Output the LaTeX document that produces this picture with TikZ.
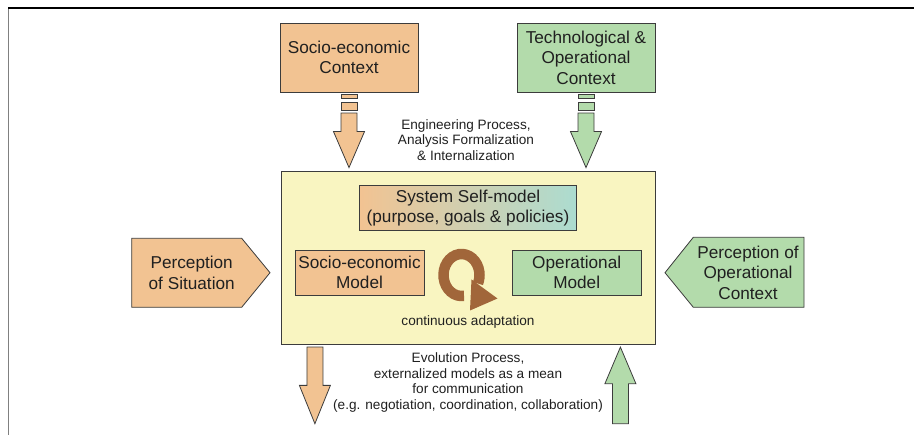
\documentclass[tikz,border=0pt]{standalone}
\usepackage{fontspec}
\setmainfont{Liberation Sans}
\usepackage{tikz}
\usetikzlibrary{calc}

\definecolor{peach}{HTML}{F2C392}
\definecolor{sage}{HTML}{B3DBAB}
\definecolor{mint}{HTML}{ACDCD0}
\definecolor{cream}{HTML}{F9F5C1}
\definecolor{rust}{HTML}{A1663A}
\definecolor{edge}{HTML}{3C3C3C}
\definecolor{ink}{HTML}{202020}

\newcommand{\boxfont}{\fontsize{17.2}{20.5}\selectfont}
\newcommand{\notefont}{\fontsize{13.6}{15.5}\selectfont}

% #1 tail, #2 tip, #3 fill, #4 signed head length
\newcommand{\blockarrow}[4]{%
  \filldraw[fill=#3,draw=edge] ($(#1)+(-8,0)$) -- ($(#1)+(8,0)$) -- ($(#2)+(8,#4)$)
    -- ($(#2)+(15.5,#4)$) -- (#2) -- ($(#2)+(-15.5,#4)$) -- ($(#2)+(-8,#4)$) -- cycle;}
\newcommand{\tailbars}[2]{%
  \filldraw[fill=#2,draw=edge] ($(#1)+(-8,2.3)$) rectangle ($(#1)+(8,6.3)$);
  \filldraw[fill=#2,draw=edge] ($(#1)+(-8,9.7)$) rectangle ($(#1)+(8,18)$);}

\begin{document}
\begin{tikzpicture}[x=1pt,y=-1pt,line width=0.8pt]

  \tikzstyle{block}=[draw=edge,line width=0.8pt,inner sep=0pt,align=center,
                     text=ink,font=\boxfont]
  \tikzstyle{note}=[align=center,text=ink,font=\notefont]

  \useasboundingbox (0,0) rectangle (914,435);
  \draw[gray,line width=1.5pt] (8.5,8) -- (8.5,435);
  \draw[black,line width=1.2pt] (8,8) -- (914,8);

  \node[block,fill=peach,minimum width=138pt,minimum height=69pt] (SC)  at (349,57.5)
       {Socio-economic\\Context};
  \node[block,fill=sage,minimum width=138pt,minimum height=69pt]  (TC)  at (586,57.5)
       {Technological \&\\Operational\\Context};
  \node[block,fill=cream,minimum width=374pt,minimum height=173pt] (SYS) at (468,257.5) {};
  \node[block,left color=peach,right color=mint,minimum width=217pt,minimum height=45pt]
       (SSM) at (468,208.3) {System Self-model\\(purpose, goals \& policies)};
  \node[block,fill=peach,minimum width=129pt,minimum height=45pt] (SEM) at (359.5,272.5)
       {Socio-economic\\Model};
  \node[block,fill=sage,minimum width=129pt,minimum height=45pt]  (OPM) at (576.7,272.5)
       {Operational\\Model};

  \filldraw[fill=peach,draw=edge] (131.7,238.3) -- (241.7,238.3) -- (270,272.7)
       -- (241.7,307.3) -- (131.7,307.3) -- cycle;
  \node[block,draw=none] (PS) at (191.7,273) {Perception\\of Situation};
  \filldraw[fill=sage,draw=edge] (665,272.7) -- (693.3,237.3) -- (804,237.3)
       -- (804,307.3) -- (693.3,307.3) -- cycle;
  \node[block,draw=none] (PO) at (748,272.5) {Perception of\\Operational\\Context};

  \coordinate (CYC) at ($(SYS.center)+(-6.5,17.5)$);
  \draw[rust,line width=10.5pt] ($(CYC)+(82:18 and 21)$)
       arc[start angle=82,end angle=384,x radius=18,y radius=21];
  \fill[rust] ($(CYC)+(10,4.5)$) -- ($(CYC)+(36,23.5)$) -- ($(CYC)+(8.5,35.5)$) -- cycle;
  \node[note] (CA) at (468,322) {continuous adaptation};

  \coordinate (A1) at ($(SC.south)+(0,20.7)$);
  \coordinate (A1t) at ($(SYS.north -| SC.south)+(0,-3)$);
  \tailbars{SC.south}{peach}
  \blockarrow{A1}{A1t}{peach}{-36}
  \coordinate (A2) at ($(TC.south)+(0,20.7)$);
  \coordinate (A2t) at ($(SYS.north -| TC.south)+(0,-3)$);
  \tailbars{TC.south}{sage}
  \blockarrow{A2}{A2t}{sage}{-36}
  \node[note] (EP) at (466,140)
       {Engineering Process,\\Analysis Formalization\\\& Internalization};

  \coordinate (B1) at ($(SYS.south west)+(34.3,2.7)$);
  \coordinate (B1t) at ($(B1)+(0,76.6)$);
  \blockarrow{B1}{B1t}{peach}{-38.3}
  \coordinate (B2t) at ($(SYS.south east)+(-35,2.7)$);
  \coordinate (B2) at ($(B2t)+(0,76.6)$);
  \blockarrow{B2}{B2t}{sage}{36.6}
  \node[note,text depth=0pt] (EVP) at (468,381)
       {Evolution Process,\\externalized models as a mean\\for communication\\
        (e.g. negotiation, coordination, collaboration)};
\end{tikzpicture}
\end{document}
